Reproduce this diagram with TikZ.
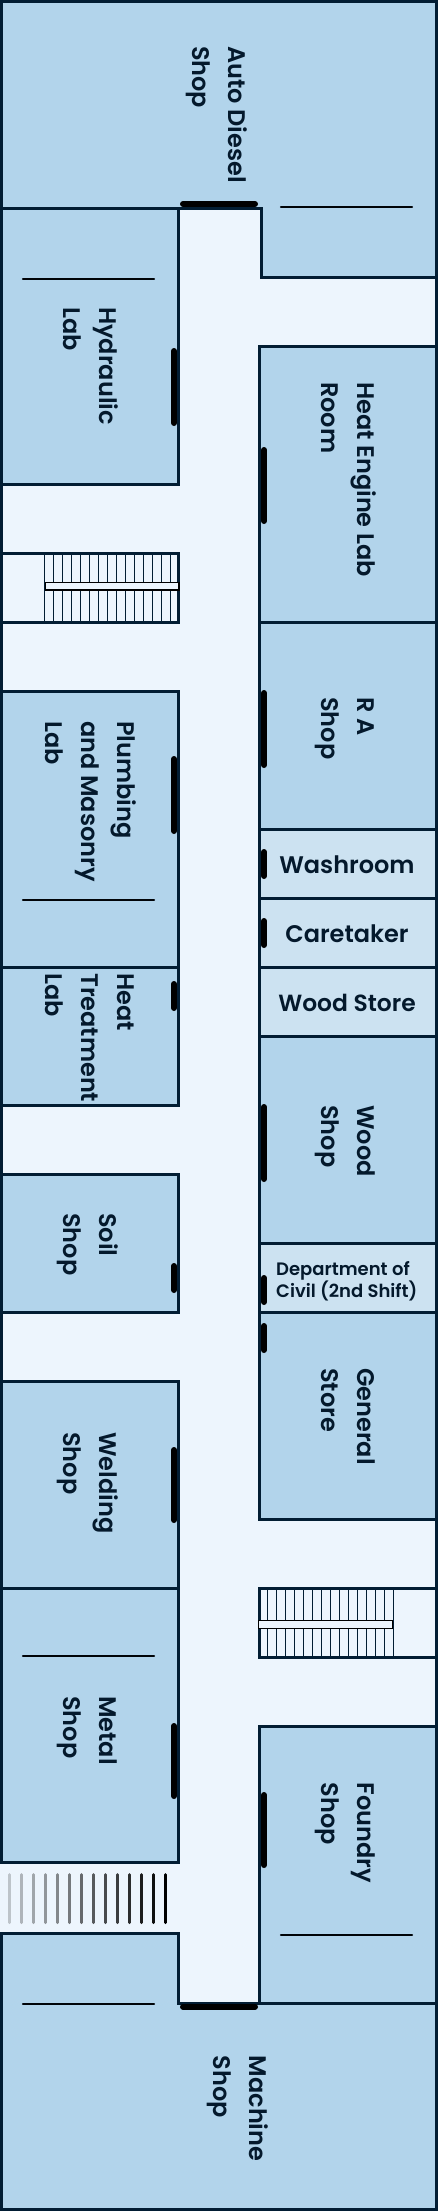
\documentclass[tikz,border=0pt]{standalone}
\usepackage{fontspec}
\setmainfont{Poppins}[UprightFont=* SemiBold]
\newfontfamily\semifont{Poppins}[UprightFont=* SemiBold]
\definecolor{roomblue}{HTML}{B2D4EB}
\definecolor{roomlight}{HTML}{CCE2F1}
\definecolor{hallblue}{HTML}{EDF5FD}
\definecolor{wallink}{HTML}{021D33}
\definecolor{inktext}{HTML}{04192C}
\tikzset{
  wallbox/.style={line width=3pt,draw=wallink,fill=roomblue,line join=miter},
  lightbox/.style={wallbox,fill=roomlight},
  doorbar/.style={line width=6pt,draw=black,line cap=round},
  thinbar/.style={line width=2.2pt,draw=black!85!wallink,line cap=round},
  stairtread/.style={line width=1.3pt,draw=wallink},
  stairrail/.style={line width=1.1pt,draw=black,fill=hallblue},
  sidelabel/.style={rotate=-90,anchor=north west,inner sep=0pt,align=left,text=inktext,font=\fontsize{24}{36}\selectfont},
  flatlabel/.style={inner sep=0pt,text=inktext,font=\semifont\fontsize{24}{30}\selectfont},
  smalllabel/.style={inner sep=0pt,align=left,text=inktext,anchor=north west,font=\semifont\fontsize{18}{18}\selectfont},
}
\newcommand{\fs}{\rule{0pt}{24pt}}
\begin{document}
\begin{tikzpicture}[x=1pt,y=-1pt]
\useasboundingbox (0,0) rectangle (438,2211);
\fill[hallblue] (0,0) rectangle (438,2211);
% stairs 1
\foreach \i in {0,...,14}{\draw[stairtread] ({44.2+9*\i},553.5) -- ({44.2+9*\i},622.3);}
\draw[wallink,line width=3pt] (0,553.5) -- (178.7,553.5) -- (178.7,622.3) -- (0,622.3);
\draw[stairrail] (45.7,582.6) rectangle (179,590);
% stairs 2
\foreach \i in {0,...,14}{\draw[stairtread] ({267.3+9*\i},1588) -- ({267.3+9*\i},1657);}
\draw[wallink,line width=3pt] (438,1588) -- (259.3,1588) -- (259.3,1657) -- (438,1657);
\draw[stairrail] (258.7,1620.6) rectangle (392.6,1628.4);
% fading stairs
\foreach \i in {0,...,13}{\draw[line width=3pt,line cap=round,draw=black,opacity={0.2+0.8*\i/13}] ({9+12*\i},1874.5) -- ({9+12*\i},1922.5);}
% rooms
\draw[wallbox] (0,0) -- (438,0) -- (438,277.3) -- (261,277.3) -- (261,208.3) -- (0,208.3) -- cycle;
\draw[wallbox] (0,208.3) rectangle (178.7,484);
\draw[wallbox] (259.3,346.5) rectangle (438,622.3);
\draw[wallbox] (259.3,622.3) rectangle (438,829.3);
\draw[lightbox] (259.3,829.3) rectangle (438,898.3);
\draw[lightbox] (259.3,898.3) rectangle (438,967.5);
\draw[lightbox] (259.3,967.5) rectangle (438,1036);
\draw[wallbox] (259.3,1036) rectangle (438,1243.5);
\draw[lightbox] (259.3,1243.5) rectangle (438,1312.3);
\draw[wallbox] (259.3,1312.3) rectangle (438,1519);
\draw[wallbox] (259.3,1726) rectangle (438,2003);
\draw[wallbox] (0,691.7) rectangle (178.7,967.3);
\draw[wallbox] (0,967.3) rectangle (178.7,1105.3);
\draw[wallbox] (0,1174.3) rectangle (178.7,1312.3);
\draw[wallbox] (0,1381) rectangle (178.7,1588);
\draw[wallbox] (0,1588) rectangle (178.7,1862);
\draw[wallbox] (0,1933) -- (178.7,1933) -- (178.7,2003) -- (438,2003) -- (438,2211) -- (0,2211) -- cycle;
% outer frame, open at the fading stairs
\draw[wallink,line width=3pt,line cap=butt] (1.5,1862) -- (1.5,1.5) -- (436.5,1.5) -- (436.5,2209.5) -- (1.5,2209.5) -- (1.5,1933);
% doors
\draw[doorbar] (183,204) -- (255,204);
\draw[doorbar] (174,351) -- (174,423);
\draw[doorbar] (264,450) -- (264,521);
\draw[doorbar] (264,693) -- (264,765);
\draw[doorbar] (264,852) -- (264,876);
\draw[doorbar] (264,921) -- (264,945);
\draw[doorbar] (174,759) -- (174,831);
\draw[doorbar] (174,984) -- (174,1008);
\draw[doorbar] (264,1107) -- (264,1179);
\draw[doorbar] (174,1266) -- (174,1290);
\draw[doorbar] (264,1278) -- (264,1302);
\draw[doorbar] (264,1326) -- (264,1350);
\draw[doorbar] (174,1450) -- (174,1520);
\draw[doorbar] (174,1726) -- (174,1796);
\draw[doorbar] (264,1795) -- (264,1865);
\draw[doorbar] (183,2006.7) -- (255,2006.7);
% partition strokes
\draw[thinbar] (281,206.8) -- (412,206.8);
\draw[thinbar] (23,279) -- (154,279);
\draw[thinbar] (23,900) -- (154,900);
\draw[thinbar] (23,1655.6) -- (154,1655.6);
\draw[thinbar] (281,1935) -- (412,1935);
\draw[thinbar] (23,2004) -- (154,2004);
% labels
\node[sidelabel] (autodiesel) at (253,46) {\fs Auto Diesel\\Shop};
\node[sidelabel] (hydraulic) at (124,307) {\fs Hydraulic\\Lab};
\node[sidelabel] (heatengine) at (382,382) {\fs Heat Engine Lab\\Room};
\node[sidelabel] (rashop) at (382,697) {\fs R A\\Shop};
\node[sidelabel] (plumbing) at (142,721) {\fs Plumbing\\and Masonry\\Lab};
\node[sidelabel] (heattreat) at (142,973) {\fs Heat\\Treatment\\Lab};
\node[sidelabel] (woodshop) at (382,1105) {\fs Wood\\Shop};
\node[sidelabel] (soil) at (124,1213) {\fs Soil\\Shop};
\node[sidelabel] (general) at (382,1368) {\fs General\\Store};
\node[sidelabel] (welding) at (124,1432) {\fs Welding\\Shop};
\node[sidelabel] (metal) at (124,1696) {\fs Metal\\Shop};
\node[sidelabel] (foundry) at (382,1782.5) {\fs Foundry\\Shop};
\node[sidelabel] (machine) at (274,2055.5) {\fs Machine\\Shop};
\node[flatlabel] (washroom) at (347,865) {Washroom};
\node[flatlabel] (caretaker) at (347,934) {Caretaker};
\node[flatlabel,font=\semifont\fontsize{23.4}{30}\selectfont] (woodstore) at (347,1003) {Wood Store};
\node[smalllabel] (civil) at (276,1259.5) {\rule{0pt}{15.5pt}Department of\\Civil (2nd Shift)};
\end{tikzpicture}
\end{document}
